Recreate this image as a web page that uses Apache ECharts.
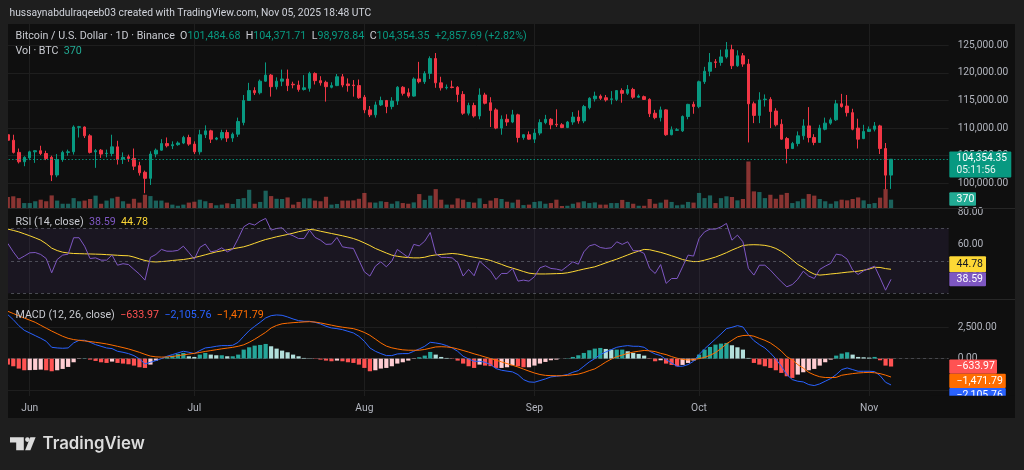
<!DOCTYPE html>
<html>
<head>
<meta charset="utf-8">
<script src="https://cdn.jsdelivr.net/npm/echarts@6/dist/echarts.min.js"></script>
<style>
html,body{margin:0;padding:0;background:#1e1e1e;}
#c{width:1024px;height:470px;}
</style>
</head>
<body>
<div id="c"></div>
<script>
// ---------------- DATA ----------------
const startDate = [2025, 4, 28];          // 2025-05-28 (month is 0-based)
const padDays = 10;                       // empty right margin slots
const monthNames = ['Jan','Feb','Mar','Apr','May','Jun','Jul','Aug','Sep','Oct','Nov','Dec'];

// candles: [open, close, low, high]
const mayCandles = [
  [108800,107800,106900,109300],[107800,105600,105400,108800],[105600,103900,103600,106300],[103900,104700,103100,104900]
];
const junCandles = [
  [104600,105700,104200,105900],[105700,105900,103700,105950],[105900,105400,105100,106800],[105400,104500,104200,105900],
  [104700,101500,100400,105000],[101500,104300,101100,105300],[104300,105600,103900,105900],[105600,105700,105000,106100],
  [105700,110200,105200,110500],[110150,110250,108300,110400],[110200,108600,108200,110300],[108600,105600,105400,108900],
  [105700,105900,102800,106200],[106000,105300,104600,106200],[105400,105450,104700,106100],[105400,106600,104900,108800],
  [106600,104300,103400,107700],[104400,104700,103500,105600],[104800,104500,103900,105200],[104500,103100,102400,106300],
  [103200,101900,101400,103900],[102000,100900,98200,102300],[100900,105300,99700,105800],[105300,106000,104700,106300],
  [106000,107200,105900,108000],[107200,106800,106500,108300],[106800,107000,106200,107600],[107000,107300,106800,107600],
  [107300,108300,107100,108600],[108300,107100,106800,108800]
];
const julCandles = [
  [107100,105700,105300,107600],[105700,108800,105200,109700],[108800,109500,108200,110500],[109500,108000,107300,109700],
  [108000,108200,107800,108400],[108200,109200,107800,109700],[109200,108200,107500,109700],[108200,108900,107500,109200],
  [108900,111200,108400,111900],[111000,115000,110500,116000],[115000,116800,115000,118200],[116800,116400,116000,117400],
  [116400,118500,116100,118800],[118500,119600,118400,121900],[119600,117500,115700,119800],[117500,118500,117000,119200],
  [118500,118900,117600,120600],[118900,117700,116700,120600],[117950,117850,117200,118400],[117800,117000,116600,118600],
  [117000,117300,116800,119600],[117200,119900,116600,120200],[119900,118600,117900,120100],[118600,118200,117700,119400],
  [118300,117500,114800,118600],[117400,117700,117200,118300],[117700,119300,117600,119800],[119300,117800,117400,119800],
  [118000,117700,116600,119000],[117800,117700,115700,118700],[117700,115500,115300,118800]
];
const augCandles = [
  [115600,113300,112700,116000],[113300,112400,112000,114000],[112400,114200,111900,114800],[114200,115000,114000,115700],
  [115000,113900,112700,115100],[113900,114900,113400,115600],[114900,117400,114200,117600],[117400,116300,115900,117600],
  [116400,115800,115500,117200],[115800,118900,115700,119200],[118900,118400,118100,122000],[118400,119900,118000,120300],
  [119900,122600,118900,123000],[122600,118200,117300,123600],[118200,117300,116800,119300],[117300,117400,117000,117900],
  [117450,117350,117200,118600],[117400,116100,114700,117600],[116100,112700,112400,116700],[112700,114100,112300,114600],
  [114100,112200,111900,114600],[112200,116000,111600,117200],[116000,114500,114300,116400],[114600,113200,110200,115600],
  [113300,110000,109800,113600],[110000,111600,108800,112300],[111600,111100,110400,112500],[111100,112400,110900,113300],
  [112400,108300,107400,112600],[108300,108800,107900,108900],[108800,108000,107900,109400]
];
const sepCandles = [
  [108000,109100,107300,109900],[109100,111000,108700,111600],[111000,111600,110700,112400],[111600,110600,109800,111800],
  [110700,110600,110200,113400],[110600,110100,110000,110900],[110100,111100,110000,111300],[111100,112000,110600,112900],
  [112000,111300,110800,113200],[111300,113900,110900,114200],[113700,115400,113400,115600],[115300,115800,114800,116600],
  [115800,115400,115100,116100],[115500,115100,114800,116000],[115200,115300,114300,116700],[115200,116800,114900,116900],
  [116800,116300,114600,117200],[116300,117000,116000,117800],[117000,115600,115300,117300],[115600,115800,115500,116100],
  [115700,115200,115100,115900],[115200,112600,112000,115400],[112700,111900,111600,113300],[111900,113300,111200,113900],
  [113300,108800,108600,113400],[108800,109700,108700,110300],[109600,109700,109500,110000],[109500,112100,109300,112300],
  [112100,114300,111600,114400],[114300,113900,112600,114800]
];
const octCandles = [
  [113900,118400,113600,118600],[118400,120300,118000,121100],[120300,121900,119400,123600],[122000,121900,120900,122500],
  [121900,122900,121300,124200],[122900,124200,122600,125600],[124200,121300,120700,125100],[121300,123100,121100,124100],
  [123100,121600,121100,123600],[121600,114400,107400,122500],[114400,112300,110900,114800],[112300,115100,110900,116500],
  [115150,115250,113900,116100],[115200,113000,110000,115600],[113100,110600,110300,113600],[110700,108000,107900,111600],
  [108100,106300,103600,108400],[106300,107200,106200,107500],[107200,108600,106700,109400],[108600,110400,107900,111600],
  [110400,108300,107400,113800],[108300,107400,106900,108900],[107400,110000,107400,110600],[109800,110900,109600,111900],
  [110900,111500,110600,111900],[111500,114400,111300,115100],[114400,113900,113700,116200],[114000,112800,112100,116000],
  [112800,109800,109600,113500],[110000,108000,106300,111700],[108100,109400,108000,110600]
];
const novCandles = [
  [109400,109800,109300,110300],[109800,110400,109400,111100],[110400,106300,105300,110600],[106300,101480,98900,107300],
  [101484.68,104354.35,98978.84,104371.71]
];

// volume (BTC)
const volumes = [
  490,520,440,220,220,300,370,300,560,330, 190,190,440,300,330,400,550,190,330,430,
  500,300,190,410,240,590,530,330,330,240, 150,100,150,240,280,370,300,220,120,150,
  210,180,400,440,810,190,270,770,530,410, 400,470,150,270,430,430,330,300,500,150,
  180,330,330,340,410,670,250,240,300,270, 190,300,220,190,250,620,360,550,840,370,
  150,150,430,370,270,240,430,180,330,440, 400,280,240,370,130,150,270,300,190,220,
  370,90,100,190,250,300,220,250,150,150, 220,220,360,270,190,100,100,400,190,240,
  370,270,120,150,270,240,670,440,560,220, 440,520,490,340,400,2070,740,710,440,590,
  410,590,670,220,300,410,620,550,400,300, 190,300,370,340,400,470,340,180,220,460,
  840,370
];

// RSI (14, close)
const rsi = [
  60.7,55.5,51.0,52.9,54.9,55.1,53.9,51.4,42.6,50.8, 53.5,54.1,64.2,64.2,59.0,51.4,51.8,50.4,50.4,53.5,
  47.3,48.2,47.7,44.7,41.8,38.1,52.1,53.9,57.0,55.9, 55.9,56.4,59.0,55.1,51.0,58.2,60.3,55.5,56.2,58.0,
  55.5,57.2,63.7,70.9,73.0,72.0,74.4,76.1,68.9,69.9, 70.3,66.8,65.4,63.7,63.7,68.9,64.4,62.7,60.1,60.3,
  64.4,58.6,58.0,57.6,50.4,43.2,40.6,46.7,49.4,46.3, 49.8,57.0,54.5,52.1,60.1,59.2,62.1,67.4,54.5,52.1,
  52.1,51.8,49.0,40.6,44.7,40.8,49.8,46.7,43.8,38.5, 42.2,42.2,45.3,37.5,38.1,37.5,40.2,45.7,46.9,45.3,
  44.9,44.1,46.7,49.4,47.9,55.5,59.2,60.1,58.2,57.6, 58.0,61.7,60.1,61.7,56.2,56.2,54.5,45.3,42.2,47.7,
  36.1,39.1,39.1,46.3,53.5,52.9,63.7,67.8,69.5,69.5, 70.9,73.0,62.7,65.8,61.7,45.3,41.2,47.3,47.3,44.3,
  40.6,37.1,34.0,35.4,38.7,43.6,40.6,39.1,44.7,46.7, 48.4,54.1,53.5,51.0,44.3,41.6,43.8,45.3,46.7,39.5,
  31.9,38.59
];
// RSI-based MA
const rsiMa = [
  69.5,68.7,67.8,66.6,65.4,64.1,62.7,60.5,57.8,56.3, 55.3,54.8,54.5,54.4,54.3,54.2,54.1,54.0,53.8,53.6,
  53.4,53.2,53.1,52.3,51.2,50.2,49.5,49.3,49.5,49.8, 50.2,50.5,50.8,51.3,52.0,52.8,53.7,54.6,55.5,56.1,
  56.8,57.4,58.0,58.6,59.6,60.8,62.0,63.1,63.9,64.8, 65.5,66.2,67.0,67.9,68.6,69.3,69.0,68.2,67.5,66.8,
  66.1,65.4,64.6,63.7,62.5,61.0,59.4,57.6,56.2,54.8, 53.5,52.8,52.3,52.0,51.8,51.8,52.2,53.1,53.6,53.9,
  54.2,54.5,54.2,53.6,52.8,52.2,51.6,51.0,50.2,49.0, 47.8,46.5,45.5,44.5,43.4,42.4,42.0,41.9,41.9,42.0,
  42.1,42.2,42.6,43.3,44.1,44.9,45.6,46.3,47.5,48.7, 49.9,51.0,52.3,53.6,54.9,56.0,57.0,56.8,56.0,55.2,
  54.2,53.1,52.0,50.8,50.0,49.5,49.6,50.4,51.3,52.3, 53.6,55.0,56.6,58.0,59.4,59.8,59.9,59.8,59.5,58.8,
  57.6,55.8,53.4,50.6,47.8,45.8,43.5,41.8,41.2,41.5, 41.9,42.2,42.6,43.0,43.3,43.6,44.2,44.9,46.0,45.9,
  45.2,44.78
];

// MACD (12, 26, close)
const macd = [
  3511,3112,2633,2261,2048,1835,1623,1383,904,851, 825,851,1250,1463,1463,1303,1117,984,851,798,
  585,505,399,239,-27,-426,-293,-160,0,186, 319,452,585,505,399,638,851,904,984,1037,
  1037,1064,1303,1782,2234,2580,2899,3245,3431,3485, 3458,3325,3165,3032,2979,2979,2899,2766,2580,2447,
  2394,2314,2181,2048,1782,1383,851,585,399,239, 239,372,399,399,585,771,984,1303,1250,1170,
  1037,851,585,186,-27,-213,-213,-293,-479,-798, -931,-1000,-1062,-1277,-1676,-1862,-1889,-1756,-1623,-1463,
  -1410,-1357,-1277,-1091,-958,-612,-266,0,319,532, 718,904,984,1037,984,984,904,585,372,239,
  -80,-346,-612,-612,-479,-213,319,771,1170,1569, 1968,2394,2500,2633,2527,1915,1436,1117,851,452,
  -27,-612,-1277,-1676,-1809,-1862,-2075,-2155,-2022,-1809, -1596,-1277,-878,-745,-878,-1011,-1011,-1011,-1037,-1357,
  -1889,-2105.76
];
const signal = [
  3777,3600,3420,3240,3070,2899,2660,2430,2200,1990, 1782,1620,1520,1460,1410,1360,1300,1240,1170,1080,
  980,880,771,640,500,340,200,140,120,130, 170,230,300,360,420,490,570,640,710,780,
  840,900,984,1100,1300,1543,1820,2100,2447,2650, 2780,2830,2870,2900,2930,2950,2920,2850,2760,2670,
  2580,2510,2450,2394,2260,2090,1862,1560,1250,1000, 860,770,700,670,665,670,730,830,931,950,
  930,878,770,650,520,380,260,130,0,-130, -260,-400,-530,-670,-840,-1000,-1150,-1270,-1340,-1360,
  -1370,-1370,-1340,-1290,-1240,-1120,-960,-820,-560,-280, -40,150,280,420,520,590,650,620,560,420,
  320,160,30,-60,-110,-80,0,100,260,480, 800,1180,1460,1740,1840,1862,1790,1620,1460,1250,
  950,600,150,-100,-480,-760,-1100,-1300,-1450,-1510, -1515,-1500,-1330,-1260,-1200,-1150,-1120,-1100,-1130,-1200,
  -1320,-1471.79
];
const hist = [
  -479,-612,-798,-931,-920,-904,-878,-931,-1011,-931, -825,-665,-293,-27,27,-80,-186,-293,-346,-239,
  -346,-399,-452,-559,-692,-745,-479,-160,10,133, 239,372,452,186,133,319,452,319,266,266,
  186,186,319,718,904,1037,1091,1170,984,798, 638,505,319,186,53,27,-27,-80,-160,-213,
  -160,-213,-293,-346,-479,-745,-1011,-931,-798,-745, -612,-399,-293,-160,-27,106,239,532,319,133,
  53,-27,-160,-399,-612,-745,-479,-559,-600,-745, -745,-692,-532,-612,-692,-692,-559,-399,-266,-133,
  -80,0,27,133,266,452,665,798,851,771, 718,718,718,585,452,372,239,-27,-213,-133,
  -399,-505,-612,-505,-346,-160,319,718,931,1117, 1197,1250,1064,904,718,53,-346,-479,-612,-745,
  -931,-1144,-1410,-1543,-1277,-1091,-931,-825,-559,-293, -80,239,399,505,319,133,106,80,133,-133,
  -559,-633.97
];

// axis ticks
const priceAxis = {min: 95000, max: 130000, step: 5000};
const rsiAxis = {min: 20, max: 100, step: 20};
const macdAxis = {min: -5000, max: 5000, step: 2500};
const rsiLevels = [70, 50, 30];

// texts
const headerText = 'hussaynabdulraqeeb03 created with TradingView.com, Nov 05, 2025 18:48 UTC';
const symbolText = 'Bitcoin / U.S. Dollar · 1D · Binance';
const changeText = '+2,857.69 (+2.82%)';
const countdownText = '05:11:56';

// ---------------- BUILD ----------------
const candles = [].concat(mayCandles, junCandles, julCandles, augCandles, sepCandles, octCandles, novCandles);
const nCat = candles.length + padDays;
const dates = [];
const t0 = Date.UTC(startDate[0], startDate[1], startDate[2]);
for (let i = 0; i < nCat; i++) dates.push(new Date(t0 + i * 86400000).toISOString().slice(0, 10));
const isMonthStart = (idx, val) => typeof val === 'string' ? val.slice(8, 10) === '01' : dates[idx].slice(8, 10) === '01';

const FONT = 'Roboto, "Noto Sans", sans-serif';
const UP = '#089981', DOWN = '#f23645';
const catW = 5.486;
const firstCenter = 7.8;
const bandLeft = firstCenter - catW / 2;
const bandWidth = catW * nCat;
const LF = '10.7px ' + FONT;   // legend font

function fmt(v, d) {
  const s = Math.abs(v).toLocaleString('en-US', {minimumFractionDigits: d, maximumFractionDigits: d});
  return (v < 0 ? '\u2212' : '') + s;
}

const volData = volumes.map((v, i) => ({
  value: v,
  itemStyle: {color: candles[i][1] >= candles[i][0] ? 'rgba(38,166,154,0.55)' : 'rgba(239,83,80,0.55)'}
}));
const histData = hist.map((h, i) => {
  const p = i > 0 ? hist[i - 1] : null;
  let c;
  if (h >= 0) c = (p === null || h >= p) ? '#26a69a' : '#b2dfdb';
  else c = (p === null || h < p) ? '#ff5252' : '#ffcdd2';
  return {value: h, itemStyle: {color: c}};
});

const hiddenX = (gi) => ({type: 'category', gridIndex: gi, data: dates, boundaryGap: true, show: false});
const gridBase = {containLabel: false, outerBoundsMode: 'none', show: false};

const chart = echarts.init(document.getElementById('c'), null, {renderer: 'canvas'});
const lastC = candles[candles.length - 1];

chart.setOption({
  animation: false,
  backgroundColor: '#1e1e1e',
  textStyle: {fontFamily: FONT},
  grid: [
    Object.assign({left: firstCenter, width: catW * (nCat - 1), top: 24, height: 372}, gridBase),
    Object.assign({left: bandLeft, width: bandWidth, top: 17.7, height: 193.2}, gridBase),
    Object.assign({left: bandLeft, width: bandWidth, top: 148, height: 60}, gridBase),
    Object.assign({left: bandLeft, width: bandWidth, top: 179.55, height: 130}, gridBase),
    Object.assign({left: bandLeft, width: bandWidth, top: 296, height: 125.2}, gridBase)
  ],
  xAxis: [
    {
      type: 'category', gridIndex: 0, data: dates, boundaryGap: false,
      axisLine: {show: false}, axisTick: {show: false},
      axisLabel: {
        interval: isMonthStart, margin: 7, color: '#b2b5be', fontSize: 10.3, fontFamily: FONT,
        formatter: (v) => monthNames[parseInt(v.slice(5, 7), 10) - 1]
      },
      splitLine: {show: true, interval: isMonthStart, lineStyle: {color: '#1e1e1e', width: 1}}
    },
    hiddenX(1), hiddenX(2), hiddenX(3), hiddenX(4)
  ],
  yAxis: [
    {type: 'value', gridIndex: 0, min: 0, max: 1, show: false},
    {
      type: 'value', gridIndex: 1, position: 'right', min: priceAxis.min, max: priceAxis.max, interval: priceAxis.step,
      axisLine: {show: false}, axisTick: {show: false},
      axisLabel: {margin: 9, color: '#b2b5be', fontSize: 10.2, fontFamily: FONT, showMinLabel: false, showMaxLabel: false,
        formatter: (v) => fmt(v, 2)},
      splitLine: {show: true, showMinLine: false, showMaxLine: false, lineStyle: {color: '#1e1e1e'}}
    },
    {type: 'value', gridIndex: 2, min: 0, max: 2670, show: false},
    {
      type: 'value', gridIndex: 3, position: 'right', min: rsiAxis.min, max: rsiAxis.max, interval: rsiAxis.step,
      axisLine: {show: false}, axisTick: {show: false},
      axisLabel: {margin: 9, color: '#b2b5be', fontSize: 10.2, fontFamily: FONT, showMinLabel: false, showMaxLabel: false,
        formatter: (v) => v.toFixed(2)},
      splitLine: {show: false}
    },
    {
      type: 'value', gridIndex: 4, position: 'right', min: macdAxis.min, max: macdAxis.max, interval: macdAxis.step,
      axisLine: {show: false}, axisTick: {show: false},
      axisLabel: {margin: 9, color: '#b2b5be', fontSize: 10.2, fontFamily: FONT, showMinLabel: false, showMaxLabel: false,
        formatter: (v) => fmt(v, 2)},
      splitLine: {show: true, showMinLine: false, showMaxLine: false, lineStyle: {color: '#1e1e1e'}}
    }
  ],
  series: [
    {
      type: 'candlestick', xAxisIndex: 1, yAxisIndex: 1, data: candles, barWidth: 3,
      itemStyle: {color: UP, color0: DOWN, borderColor: UP, borderColor0: DOWN, borderWidth: 1},
      markLine: {
        silent: true, symbol: 'none', label: {show: false},
        lineStyle: {color: UP, type: [1.5, 2], width: 1, opacity: 0.9},
        data: [{yAxis: lastC[1]}]
      }
    },
    {type: 'bar', xAxisIndex: 2, yAxisIndex: 2, data: volData, barWidth: 4.2, z: 1},
    {
      type: 'line', xAxisIndex: 3, yAxisIndex: 3, data: rsi, symbol: 'none', z: 3,
      lineStyle: {color: '#7e57c2', width: 1},
      markArea: {silent: true, itemStyle: {color: 'rgba(126,87,194,0.1)'},
        data: [[{yAxis: rsiLevels[0]}, {yAxis: rsiLevels[2]}]]},
      markLine: {silent: true, symbol: 'none', label: {show: false},
        lineStyle: {color: 'rgba(120,123,134,0.55)', type: [3, 3], width: 1},
        data: rsiLevels.map(v => ({yAxis: v}))}
    },
    {type: 'line', xAxisIndex: 3, yAxisIndex: 3, data: rsiMa, symbol: 'none', z: 2,
      lineStyle: {color: '#fdd835', width: 1}},
    {
      type: 'bar', xAxisIndex: 4, yAxisIndex: 4, data: histData, barWidth: 4.2, z: 2,
      markLine: {silent: true, symbol: 'none', label: {show: false},
        lineStyle: {color: 'rgba(120,123,134,0.45)', type: [3, 3], width: 1},
        data: [{yAxis: 0}]}
    },
    {type: 'line', xAxisIndex: 4, yAxisIndex: 4, data: macd, symbol: 'none', z: 3,
      lineStyle: {color: '#2962ff', width: 1}},
    {type: 'line', xAxisIndex: 4, yAxisIndex: 4, data: signal, symbol: 'none', z: 3,
      lineStyle: {color: '#ff6d00', width: 1}}
  ]
});

// ---------------- OVERLAYS ----------------
const py = (axis, v) => chart.convertToPixel({yAxisIndex: axis}, v);
function text(x, y, s, fill, size, extra) {
  return Object.assign({
    type: 'text', z: 60, silent: true,
    style: {x: x, y: y, text: s, fill: fill, font: size + 'px ' + FONT,
      textVerticalAlign: 'middle', verticalAlign: 'middle', textAlign: 'left', align: 'left'}
  }, extra || {});
}
function box(y, h, w, color, label, txtColor, z) {
  return [
    {type: 'rect', z: z, silent: true, shape: {x: 949.3, y: y - h / 2, width: w, height: h, r: 1}, style: {fill: color}},
    Object.assign(text(956.6, y + 0.3, label, txtColor, 10.5), {z: z + 1})
  ];
}
function rich(x, y, str, styles) {
  const r = {};
  Object.keys(styles).forEach(k => { r[k] = {fill: styles[k], font: LF}; });
  return {type: 'text', z: 60, silent: true,
    style: {x: x, y: y, textVerticalAlign: 'middle', verticalAlign: 'middle', text: str, font: LF, rich: r}};
}

const g = [];
// panel background
g.push({type: 'rect', z: -100, silent: true, shape: {x: 8, y: 24, width: 1007, height: 394}, style: {fill: '#0f0f0f'}});
// pane separators
g.push({type: 'line', z: 45, silent: true, shape: {x1: 8, y1: 208.5, x2: 1015, y2: 208.5}, style: {stroke: '#262626', lineWidth: 1}});
g.push({type: 'line', z: 45, silent: true, shape: {x1: 8, y1: 299.5, x2: 1015, y2: 299.5}, style: {stroke: '#262626', lineWidth: 1}});
// left edge cover
g.push({type: 'rect', z: 50, silent: true, shape: {x: 0, y: 20, width: 8, height: 400}, style: {fill: '#1e1e1e'}});

// header
g.push(text(9.5, 13.5, headerText, '#d1d4dc', 10.3));

// legends
const o = lastC[0], c = lastC[1], l = lastC[2], h = lastC[3];
const GREY = '#c9cbd1';
g.push(rich(15.5, 36.5,
  '{a|' + symbolText + '}  {a|O}{v|' + fmt(o, 2) + '}  {a|H}{v|' + fmt(h, 2) + '}  {a|L}{v|' + fmt(l, 2) +
  '}  {a|C}{v|' + fmt(c, 2) + '}  {v|' + changeText + '}', {a: GREY, v: UP}));
g.push(rich(15.5, 51.5, '{a|Vol · BTC}  {v|' + volumes[volumes.length - 1] + '}', {a: GREY, v: '#22ab94'}));
g.push(rich(15.5, 222,
  '{a|RSI (14, close)}  {p|' + rsi[rsi.length - 1].toFixed(2) + '}  {y|' + rsiMa[rsiMa.length - 1].toFixed(2) + '}',
  {a: GREY, p: '#7e57c2', y: '#fdd835'}));
g.push(rich(15.5, 315.5,
  '{a|MACD (12, 26, close)}  {r|' + fmt(hist[hist.length - 1], 2) + '}  {b|' + fmt(macd[macd.length - 1], 2) +
  '}  {o|' + fmt(signal[signal.length - 1], 2) + '}',
  {a: GREY, r: '#ff5252', b: '#2962ff', o: '#ff6d00'}));

// price box
const pY = py(1, c);
g.push({type: 'rect', z: 70, silent: true, shape: {x: 949.3, y: pY - 7.8, width: 62, height: 26, r: 1}, style: {fill: UP}});
g.push(Object.assign(text(956.4, pY - 0.5, fmt(c, 2), '#ffffff', 10.2), {z: 71}));
g.push(Object.assign(text(956.4, pY + 11.5, countdownText, '#e8f5f2', 10.2), {z: 71}));
// volume box
const vY = py(2, volumes[volumes.length - 1]);
g.push(...box(vY - 0.8, 13.5, 26.7, '#22ab94', String(volumes[volumes.length - 1]), '#ffffff', 70));
// RSI boxes
const rY = py(3, rsi[rsi.length - 1]);
let maY = py(3, rsiMa[rsiMa.length - 1]);
const bh = 15;
if (Math.abs(maY - rY) < bh) maY = rY - bh;
g.push(...box(maY, 16, 36.7, '#fdd835', rsiMa[rsiMa.length - 1].toFixed(2), '#131722', 70));
g.push(...box(rY, 14, 36.7, '#7e57c2', rsi[rsi.length - 1].toFixed(2), '#ffffff', 72));
// MACD boxes (stacked top-down)
const mBoxes = [
  {v: hist[hist.length - 1], color: '#ff5252', w: 47.7},
  {v: signal[signal.length - 1], color: '#ff6d00', w: 56.5},
  {v: macd[macd.length - 1], color: '#2962ff', w: 56.5}
].sort((a, b) => b.v - a.v);
let prevY = -1e9;
const mh = 14.3;
mBoxes.forEach((bx, i) => {
  let y = py(4, bx.v);
  if (y < prevY + mh) y = prevY + mh;
  prevY = y;
  g.push(...box(y, mh, bx.w, bx.color, fmt(bx.v, 2), '#ffffff', 74 + i * 2));
});
// bottom-right cover (clip MACD labels at pane bottom)
g.push({type: 'rect', z: 90, silent: true, shape: {x: 930, y: 395.7, width: 85, height: 22.3}, style: {fill: '#0f0f0f'}});

// TradingView logo
g.push({type: 'polygon', z: 60, silent: true, shape: {points: [[10, 437.3], [23.8, 437.3], [23.8, 450.2], [16.2, 450.2], [16.2, 442.4], [10, 442.4]]}, style: {fill: '#dcdcdc'}});
g.push({type: 'circle', z: 60, silent: true, shape: {cx: 27.4, cy: 439.6, r: 2.3}, style: {fill: '#dcdcdc'}});
g.push({type: 'polygon', z: 60, silent: true, shape: {points: [[30.3, 437.3], [35.6, 437.3], [30.4, 450.2], [25.1, 450.2]]}, style: {fill: '#dcdcdc'}});
g.push({type: 'text', z: 60, silent: true,
  style: {x: 42.5, y: 444, text: 'TradingView', fill: '#dcdcdc', font: '600 16.8px Inter, Roboto, sans-serif',
    textVerticalAlign: 'middle', verticalAlign: 'middle'}});

chart.setOption({graphic: g});
</script>
</body>
</html>
